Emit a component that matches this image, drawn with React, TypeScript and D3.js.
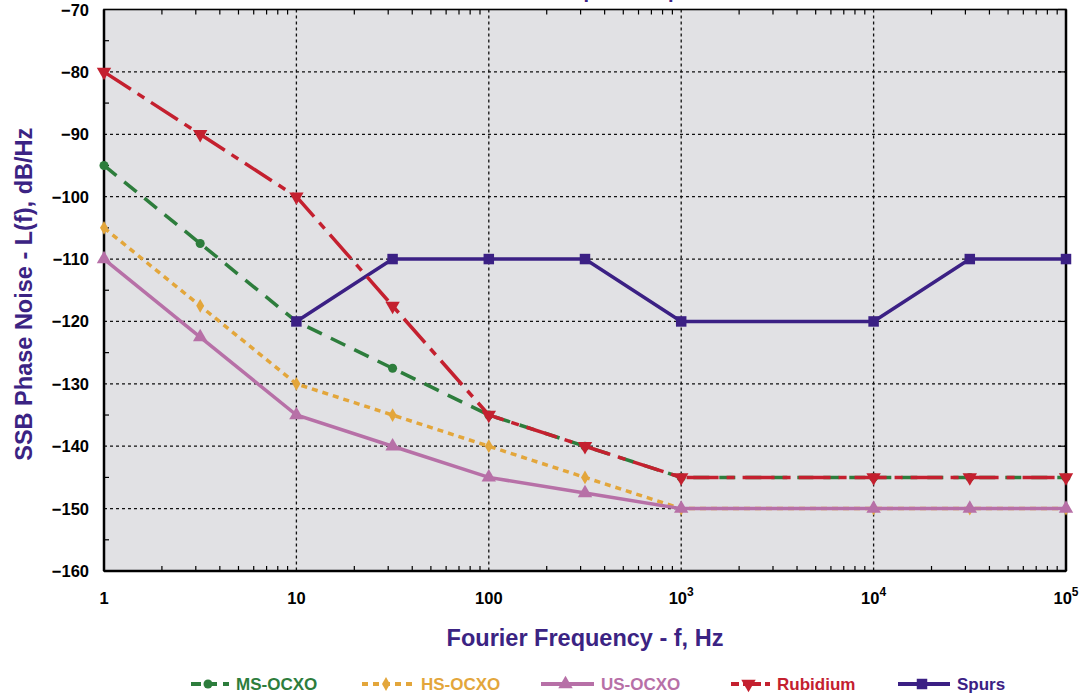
import React, { useEffect, useRef } from 'react';
import * as d3 from 'd3';

const frequencies = [1, 3.162, 10, 31.62, 100, 316.2, 1000, 10000, 31620, 100000];
const msOcxo = [-95, -107.5, -120, -127.5, -135, -140, -145, -145, -145, -145];
const hsOcxo = [-105, -117.5, -130, -135, -140, -145, -150, -150, -150, -150];
const usOcxo = [-110, -122.5, -135, -140, -145, -147.5, -150, -150, -150, -150];
const rubidium = [-80, -90, -100, -117.5, -135, -140, -145, -145, -145, -145];
const spursFreq = [10, 31.62, 100, 316.2, 1000, 10000, 31620, 100000];
const spurs = [-120, -110, -110, -110, -120, -120, -110, -110];

const yTicks = [-70, -80, -90, -100, -110, -120, -130, -140, -150, -160];
const xTicks = [1, 10, 100, 1000, 10000, 100000];
const xTickLabels = ['1', '10', '100', '10^3', '10^4', '10^5'];

const W = 1081;
const H = 698;

function App() {
  const ref = useRef<SVGSVGElement>(null);

  useEffect(() => {
    const svg = d3.select(ref.current);
    svg.selectAll('*').remove();

    const margin = { top: 9.5, right: 15, bottom: 127, left: 104 };
    const width = W - margin.left - margin.right;
    const height = H - margin.top - margin.bottom;
    const purple = '#3b2383';
    const font = 'Arial, "Liberation Sans", Helvetica, sans-serif';

    const x = d3.scaleLog().domain([1, 100000]).range([0, width]);
    const y = d3.scaleLinear().domain([-160, -70]).range([height, 0]);

    // title, mostly above the page (only descenders show, as in the source)
    svg.append('text')
      .attr('x', 593)
      .attr('y', -2)
      .attr('text-anchor', 'middle')
      .attr('font-family', font)
      .attr('font-weight', 'bold')
      .attr('font-size', 20)
      .attr('fill', purple)
      .text('Phase Noise Spec Comparison');

    const g = svg.append('g').attr('transform', `translate(${margin.left},${margin.top})`);

    g.append('rect')
      .attr('width', width)
      .attr('height', height)
      .attr('fill', '#e1e1e4');

    // grid
    g.selectAll('.hgrid')
      .data(yTicks.filter(d => d > -160 && d < -70))
      .join('line')
      .attr('x1', 0).attr('x2', width)
      .attr('y1', d => y(d)).attr('y2', d => y(d))
      .attr('stroke', '#111').attr('stroke-width', 1.3)
      .attr('stroke-dasharray', '3,3');

    g.selectAll('.vgrid')
      .data(xTicks.filter(d => d > 1 && d < 100000))
      .join('line')
      .attr('y1', 0).attr('y2', height)
      .attr('x1', d => x(d)).attr('x2', d => x(d))
      .attr('stroke', '#111').attr('stroke-width', 1.3)
      .attr('stroke-dasharray', '3,3');

    // minor ticks
    const minors: number[] = [];
    for (let dec = 1; dec < 100000; dec *= 10) {
      for (let k = 2; k <= 9; k++) minors.push(dec * k);
    }
    g.selectAll('.xminB')
      .data(minors)
      .join('line')
      .attr('x1', d => x(d)).attr('x2', d => x(d))
      .attr('y1', height).attr('y2', height - 5)
      .attr('stroke', '#000').attr('stroke-width', 1.2);
    g.selectAll('.xminT')
      .data(minors)
      .join('line')
      .attr('x1', d => x(d)).attr('x2', d => x(d))
      .attr('y1', 0).attr('y2', 5)
      .attr('stroke', '#000').attr('stroke-width', 1.2);

    const yMinors = d3.range(-155, -70, 10);
    g.selectAll('.yminL')
      .data(yMinors)
      .join('line')
      .attr('x1', 0).attr('x2', 5)
      .attr('y1', d => y(d)).attr('y2', d => y(d))
      .attr('stroke', '#000').attr('stroke-width', 1.2);
    g.selectAll('.ymajR')
      .data(yTicks)
      .join('line')
      .attr('x1', width).attr('x2', width - 8)
      .attr('y1', d => y(d)).attr('y2', d => y(d))
      .attr('stroke', '#000').attr('stroke-width', 1.2);

    // frame
    g.append('rect')
      .attr('width', width).attr('height', height)
      .attr('fill', 'none').attr('stroke', '#000').attr('stroke-width', 1.6);
    g.append('line').attr('x1', 0).attr('x2', 0).attr('y1', 0).attr('y2', height)
      .attr('stroke', '#000').attr('stroke-width', 2.5);
    g.append('line').attr('x1', 0).attr('x2', width).attr('y1', height).attr('y2', height)
      .attr('stroke', '#000').attr('stroke-width', 2.5);
    g.append('line').attr('x1', width).attr('x2', width).attr('y1', 0).attr('y2', height)
      .attr('stroke', '#000').attr('stroke-width', 2.5);

    // tick labels
    g.selectAll('.ylab')
      .data(yTicks)
      .join('text')
      .attr('x', -15)
      .attr('y', d => y(d) + 6)
      .attr('text-anchor', 'end')
      .attr('font-family', font).attr('font-weight', 'bold').attr('font-size', 16.5)
      .attr('fill', '#000')
      .text(d => d3.format('d')(d));

    xTicks.forEach((t, i) => {
      const label = xTickLabels[i];
      const txt = g.append('text')
        .attr('x', x(t))
        .attr('y', height + 33)
        .attr('text-anchor', 'middle')
        .attr('font-family', font).attr('font-weight', 'bold').attr('font-size', 16.5)
        .attr('fill', '#000');
      if (label.includes('^')) {
        const [base, exp] = label.split('^');
        txt.append('tspan').text(base);
        txt.append('tspan').attr('dy', -8).attr('font-size', 12).text(exp);
      } else {
        txt.text(label);
      }
    });

    // axis titles
    svg.append('text')
      .attr('x', margin.left + width / 2)
      .attr('y', 646)
      .attr('text-anchor', 'middle')
      .attr('font-family', font).attr('font-weight', 'bold').attr('font-size', 23.5)
      .attr('fill', purple)
      .text('Fourier Frequency - f, Hz');

    svg.append('text')
      .attr('transform', `translate(32, ${margin.top + height / 2 + 4}) rotate(-90)`)
      .attr('text-anchor', 'middle')
      .attr('font-family', font).attr('font-weight', 'bold').attr('font-size', 23.5)
      .attr('fill', purple)
      .text('SSB Phase Noise - L(f), dB/Hz');

    // series
    const series = [
      { name: 'MS-OCXO', xs: frequencies, ys: msOcxo, color: '#2d7d3c', dash: '16,10', marker: 'circle', legend: [191, 229] },
      { name: 'HS-OCXO', xs: frequencies, ys: hsOcxo, color: '#e3a63b', dash: '6,5', marker: 'diamond', legend: [362, 414] },
      { name: 'US-OCXO', xs: frequencies, ys: usOcxo, color: '#b770a7', dash: null, marker: 'triangleUp', legend: [541, 594] },
      { name: 'Spurs', xs: spursFreq, ys: spurs, color: '#3b2084', dash: null, marker: 'square', legend: [898, 950] },
      { name: 'Rubidium', xs: frequencies, ys: rubidium, color: '#c4202f', dash: '32,8,8,8', marker: 'triangleDown', legend: [731, 770] },
    ];

    const symbolFor = (m: string) => {
      if (m === 'circle') return d3.symbol(d3.symbolCircle, 64)();
      if (m === 'diamond') return d3.symbol(d3.symbolDiamond, 55)();
      if (m === 'square') return d3.symbol(d3.symbolSquare, 110)();
      return d3.symbol(d3.symbolTriangle, 90)();
    };
    const rot = (m: string) => (m === 'triangleDown' ? ' rotate(180)' : '');

    const line = d3.line<[number, number]>()
      .x(d => x(d[0]))
      .y(d => y(d[1]));

    series.forEach(s => {
      const pts: [number, number][] = s.xs.map((f, i) => [f, s.ys[i]]);
      g.append('path')
        .datum(pts)
        .attr('fill', 'none')
        .attr('stroke', s.color)
        .attr('stroke-width', 3.5)
        .attr('stroke-dasharray', s.dash)
        .attr('d', line);
      g.selectAll(null)
        .data(pts)
        .join('path')
        .attr('d', symbolFor(s.marker))
        .attr('transform', d => `translate(${x(d[0])},${y(d[1])})${rot(s.marker)}`)
        .attr('fill', s.color);
    });

    // legend
    const ly = 684;
    const legendOrder = ['MS-OCXO', 'HS-OCXO', 'US-OCXO', 'Rubidium', 'Spurs'];
    legendOrder.forEach(name => {
      const s = series.find(d => d.name === name)!;
      const [x0, x1] = s.legend;
      svg.append('line')
        .attr('x1', x0).attr('x2', x1)
        .attr('y1', ly).attr('y2', ly)
        .attr('stroke', s.color).attr('stroke-width', 4)
        .attr('stroke-dasharray', s.dash === '16,10' ? '10,6' : s.dash === '32,8,8,8' ? '8,4,18,4' : s.dash);
      svg.append('path')
        .attr('d', symbolFor(s.marker))
        .attr('transform', `translate(${(x0 + x1) / 2 - 2},${ly})${rot(s.marker)}`)
        .attr('fill', s.color);
      svg.append('text')
        .attr('x', x1 + 7)
        .attr('y', ly + 6)
        .attr('font-family', font).attr('font-weight', 'bold').attr('font-size', 17)
        .attr('fill', s.color)
        .text(name);
    });
  }, []);

  return (
    <svg
      ref={ref}
      width={W}
      height={H}
      style={{ position: 'absolute', left: 0, top: 0, background: '#fff' }}
    />
  );
}

export default App;
